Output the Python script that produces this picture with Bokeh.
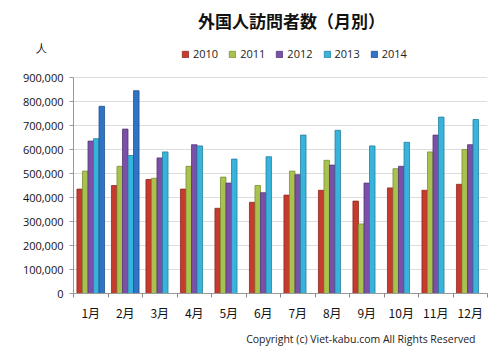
from bokeh.plotting import figure
from bokeh.models import (ColumnDataSource, Range1d, FixedTicker, NumeralTickFormatter,
                          Label, Legend, LegendItem, Title, LinearAxis)
from bokeh.transform import dodge
from bokeh.embed import file_html
from bokeh.resources import INLINE
import numpy as np

months = ["1月", "2月", "3月", "4月", "5月", "6月", "7月", "8月", "9月", "10月", "11月", "12月"]
years = ["2010", "2011", "2012", "2013", "2014"]
v2010 = [435000, 450000, 475000, 435000, 355000, 380000, 410000, 430000, 385000, 440000, 430000, 455000]
v2011 = [510000, 530000, 480000, 530000, 485000, 450000, 510000, 555000, 290000, 520000, 590000, 600000]
v2012 = [635000, 685000, 565000, 620000, 460000, 420000, 495000, 535000, 460000, 530000, 660000, 620000]
v2013 = [645000, 575000, 590000, 615000, 560000, 570000, 660000, 680000, 615000, 630000, 735000, 725000]
v2014 = [780000, 845000, None, None, None, None, None, None, None, None, None, None]
y_ticks = [0, 100000, 200000, 300000, 400000, 500000, 600000, 700000, 800000, 900000]
title_text = "外国人訪問者数（月別）"
unit_text = "人"
credit_text = "Copyright (c) Viet-kabu.com All Rights Reserved"

colors = ["#C63B2E", "#A9C24E", "#7A50A8", "#38B4DC", "#2F74C6"]
edges = ["#8E2A20", "#7A8F35", "#553878", "#26809E", "#1F508C"]

series = [v2010, v2011, v2012, v2013, v2014]
idx = list(range(1, len(months) + 1))
data = {"idx": idx}
for y, s in zip(years, series):
    data["y" + y] = [np.nan if v is None else v for v in s]
src = ColumnDataSource(data)

ymax = y_ticks[-1]
ypp = ymax / 216.0          # data units per pixel (216 px between 0 and 900,000)
xpp = 12 / 414.0
y_top = ymax + 77 * ypp     # frame extends to the top of the figure
y_unit = ymax + 30 * ypp    # height of the unit label "人"

p = figure(width=497, height=359, output_backend="svg", toolbar_location=None,
           x_range=Range1d(0.5, 12.5), y_range=Range1d(0, y_top),
           min_border_left=73, min_border_right=10, min_border_top=0, min_border_bottom=66)
p.outline_line_color = None
p.background_fill_color = "white"

bw = 0.16
offsets = [-0.32, -0.16, 0.0, 0.16, 0.32]
items = []
for y, c, e, off in zip(years, colors, edges, offsets):
    r = p.vbar(x=dodge("idx", off), top="y" + y, width=bw, source=src,
               fill_color=c, line_color=e, line_width=0.8)
    items.append(LegendItem(label=y, renderers=[r]))

legend = Legend(items=items, orientation="horizontal", location=(108, 232),
                padding=0, margin=0, spacing=10, glyph_width=8, glyph_height=8,
                label_standoff=4, label_text_font="Open Sans", label_text_font_size="11px",
                label_text_color="#222222", background_fill_alpha=0, border_line_alpha=0)
p.add_layout(legend, "center")

# x axis
p.xaxis.ticker = FixedTicker(ticks=idx, minor_ticks=[i + 0.5 for i in range(0, 13)])
p.xaxis.major_label_overrides = {i: m for i, m in zip(idx, months)}
p.xaxis.major_tick_out = 0
p.xaxis.major_tick_in = 0
p.xaxis.minor_tick_out = 4
p.xaxis.minor_tick_in = 0
p.xaxis.minor_tick_line_color = "#888888"
p.xaxis.axis_line_color = "#999999"
p.xaxis.major_label_text_font = "Noto Sans CJK JP"
p.xaxis.major_label_text_font_size = "12px"
p.xaxis.major_label_text_color = "#111111"
p.xaxis.major_label_standoff = 6

# inner y axis: line (0..900,000) and tick marks only
yax = p.yaxis[0]
yax.ticker = FixedTicker(ticks=y_ticks)
yax.bounds = (y_ticks[0], ymax)
yax.major_label_overrides = {t: "" for t in y_ticks}
yax.major_label_standoff = 0
yax.major_tick_out = 4
yax.major_tick_in = 0
yax.major_tick_line_color = "#999999"
yax.minor_tick_line_color = None
yax.axis_line_color = "#999999"

# outer y axis: tick labels and the unit label "人"
lab = LinearAxis(ticker=FixedTicker(ticks=y_ticks + [y_unit]),
                 formatter=NumeralTickFormatter(format="0,0"),
                 major_label_overrides={y_unit: unit_text + "\u3000\u00a0\u00a0"},
                 axis_line_color=None, major_tick_line_color=None, minor_tick_line_color=None,
                 major_tick_out=0, major_tick_in=0, major_label_standoff=6,
                 major_label_text_font="Open Sans", major_label_text_font_size="11px",
                 major_label_text_color="#111111")
p.add_layout(lab, "left")

p.xgrid.grid_line_color = None
p.ygrid.ticker = FixedTicker(ticks=y_ticks)
p.ygrid.grid_line_color = "#DDDDDD"

p.add_layout(Label(x=0.5 + 218 * xpp, y=ymax + 57 * ypp, text=title_text,
                   text_font="Noto Sans CJK JP", text_font_size="17px", text_font_style="bold",
                   text_align="center", text_baseline="middle", text_color="#111111"))

credit = Title(text=credit_text, align="right", offset=12, standoff=12,
               text_font="Open Sans", text_font_size="10.5px", text_font_style="normal",
               text_color="#222222")
p.add_layout(credit, "below")

open("out.html", "w").write(file_html(p, INLINE))
